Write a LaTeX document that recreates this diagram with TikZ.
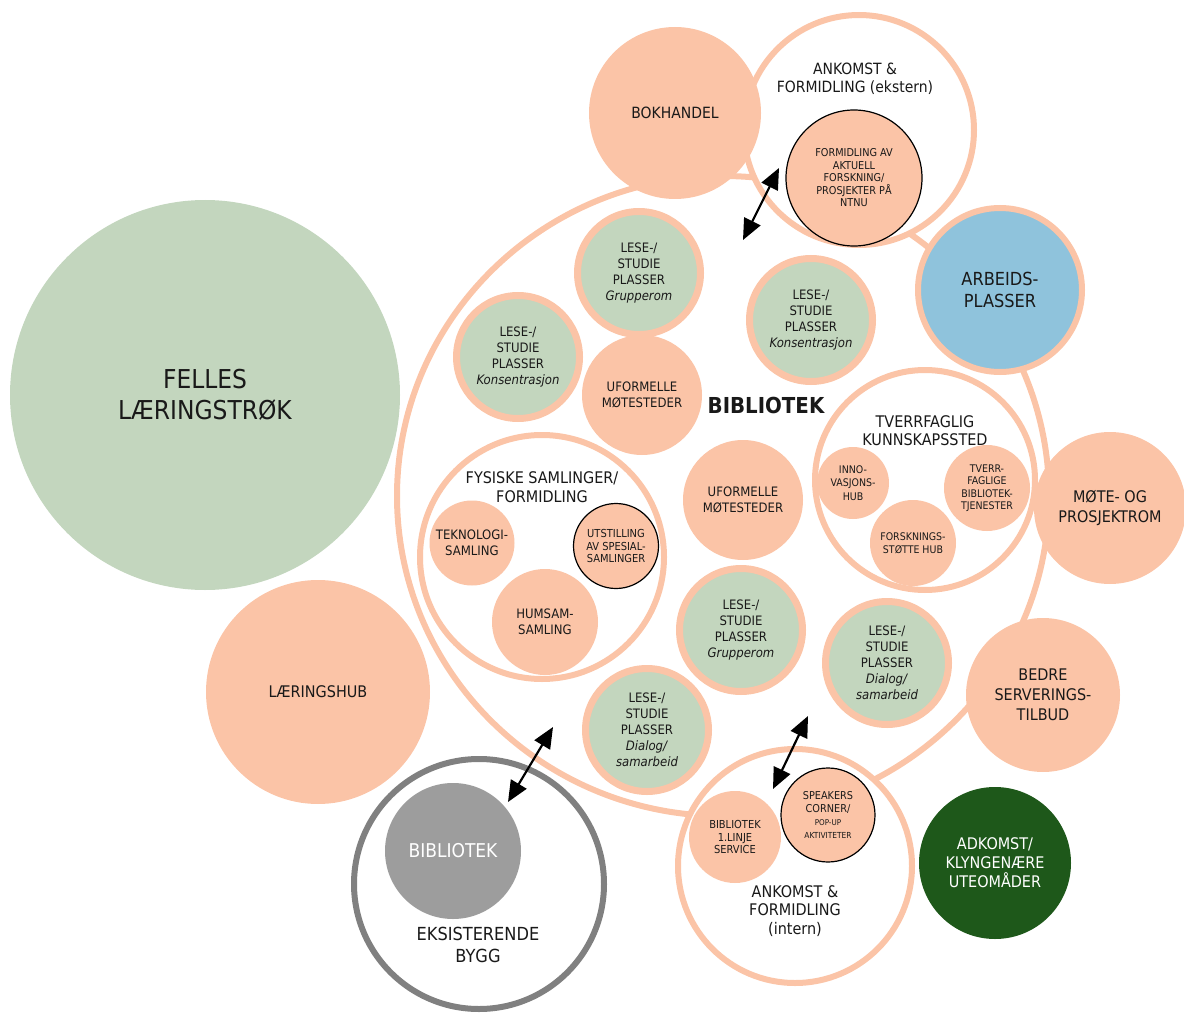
\documentclass[tikz,border=0pt]{standalone}
\usepackage{fontspec}
\setmainfont{DejaVu Sans Condensed}
\usetikzlibrary{arrows.meta,shapes.geometric}
\definecolor{peach}{RGB}{251,196,167}
\definecolor{sage}{RGB}{195,214,190}
\definecolor{sky}{RGB}{143,195,220}
\definecolor{forest}{RGB}{30,88,26}
\definecolor{stone}{RGB}{157,157,157}
\definecolor{slate}{RGB}{128,128,128}
\definecolor{ink}{RGB}{25,25,25}
\newcommand{\fs}[2]{\fontsize{#1}{#2}\selectfont}
\begin{document}
\begin{tikzpicture}
        [x=1pt,y=-1pt,every node/.style={circle,inner sep=0pt,outer sep=0pt,align=center,text=ink,font=\fs{15.5}{18.5}},
         pdisc/.style={fill=peach,minimum size=#1},
         wring/.style={fill=white,draw=peach,line width=6pt,minimum size=#1},
         lese/.style={fill=sage,draw=peach,line width=7pt,minimum size=123pt,font=\fs{13}{16}},
         bdisc/.style={fill=peach,draw=black,line width=1.2pt,minimum size=#1},
         dblarrow/.style={{Triangle[length=21pt,width=18pt]}-{Triangle[length=21pt,width=18pt]},line width=2.2pt}]
        \useasboundingbox (0,0) rectangle (1184,1014);

        % BIBLIOTEK ring
        \node[ellipse,draw=peach,line width=6pt,minimum width=652pt,minimum height=640pt] (BIB) at (723,496) {};

        % outside
        \node[fill=sage,minimum size=390pt,font=\fs{26}{31}] (FL) at (205,395)  {FELLES\\LÆRINGSTRØK};
        \node[pdisc=224pt,font=\fs{16}{19}]                (LH) at (318,692)  {LÆRINGSHUB};
        \node[wring=230pt]                                 (AKE) at (859,130) {};
        \node[pdisc=172pt]                                 (BOK) at (675,113) {BOKHANDEL};
        \node[fill=sky,draw=peach,line width=6pt,minimum size=164pt,font=\fs{18}{22}]
                                                           (ARB) at (1000,290) {ARBEIDS-\\PLASSER};
        \node[pdisc=152pt,font=\fs{16}{19.5}]              (MP) at (1110,508)  {MØTE- OG\\PROSJEKTROM};
        \node[pdisc=154pt,font=\fs{16}{20}]                (BS) at (1043,695)  {BEDRE\\SERVERINGS-\\TILBUD};
        \node[fill=forest,minimum size=152pt,text=white,font=\fs{16}{19}]
                                                           (AD) at (995,863)   {ADKOMST/\\KLYNGENÆRE\\UTEOMÅDER};
        \node[wring=234pt]                                 (AKI) at (795,866) {};
        \node[fill=white,draw=slate,line width=6pt,minimum size=250pt] (EB) at (479,884) {};

        % ANKOMST ekstern
        \node (AKEt) at (855,79) {ANKOMST \&\\FORMIDLING (ekstern)};
        \node[bdisc=136pt,font=\fs{10.8}{12.5}] (FAF) at (854,178) {FORMIDLING AV\\AKTUELL\\FORSKNING/\\PROSJEKTER PÅ\\NTNU};

        % ANKOMST intern
        \node[pdisc=92pt,font=\fs{11}{12.5}]  (B1L) at (735,837) {BIBLIOTEK\\1.LINJE\\SERVICE};
        \node[bdisc=94pt,font=\fs{10.8}{13}]  (SC)  at (828,815) {SPEAKERS\\CORNER/\\{\fs{8}{9.5}POP-UP}\\{\fs{8.3}{9.5}AKTIVITETER}};
        \node[font=\fs{16}{18.5}]             (AKIt) at (795,911) {ANKOMST \&\\FORMIDLING\\(intern)};

        % EKSISTERENDE BYGG
        \node[fill=stone,minimum size=136pt,text=white,font=\fs{19}{22}] (EBB) at (453,851) {BIBLIOTEK};
        \node[font=\fs{18}{22}]              (EBt) at (478,945) {EKSISTERENDE\\BYGG};

        % inside BIBLIOTEK
        \node[font=\bfseries\fs{22}{26}] (BIBt) at (766,405) {BIBLIOTEK};
        \node[lese] (LG1) at (639,273) {LESE-/\\STUDIE\\PLASSER\\\textit{Grupperom}};
        \node[lese] (LK1) at (518,357) {LESE-/\\STUDIE\\PLASSER\\\textit{Konsentrasjon}};
        \node[lese] (LK2) at (811,320) {LESE-/\\STUDIE\\PLASSER\\\textit{Konsentrasjon}};
        \node[lese] (LG2) at (741,630) {LESE-/\\STUDIE\\PLASSER\\\textit{Grupperom}};
        \node[lese] (LD1) at (887,663) {LESE-/\\STUDIE\\PLASSER\\\textit{Dialog/}\\\textit{samarbeid}};
        \node[lese] (LD2) at (647,730) {LESE-/\\STUDIE\\PLASSER\\\textit{Dialog/}\\\textit{samarbeid}};
        \node[pdisc=120pt,font=\fs{13}{15.7}] (UM1) at (642,395) {UFORMELLE\\MØTESTEDER};
        \node[pdisc=120pt,font=\fs{13}{15.7}] (UM2) at (743,500) {UFORMELLE\\MØTESTEDER};

        % TVERRFAGLIG
        \node[wring=220pt] (TK) at (925,480) {};
        \node[font=\fs{16}{18.3}] (TKt) at (925,431) {TVERRFAGLIG\\KUNNSKAPSSTED};
        \node[pdisc=72pt,font=\fs{10.5}{13.3}] (INN) at (853,483) {INNO-\\VASJONS-\\HUB};
        \node[pdisc=86pt,font=\fs{10.5}{12.5}] (TBT) at (987,488) {TVERR-\\FAGLIGE\\BIBLIOTEK-\\TJENESTER};
        \node[pdisc=86pt,font=\fs{10.5}{13.3}] (FSH) at (913,543) {FORSKNINGS-\\STØTTE HUB};

        % FYSISKE SAMLINGER
        \node[wring=244pt] (FS) at (542,557) {};
        \node[font=\fs{16}{19}] (FSt) at (542,487) {FYSISKE SAMLINGER/\\FORMIDLING};
        \node[pdisc=85pt,font=\fs{13}{15.7}] (TS) at (472,543) {TEKNOLOGI-\\SAMLING};
        \node[bdisc=85pt,font=\fs{11}{12.5}] (US) at (616,546) {UTSTILLING\\AV SPESIAL-\\SAMLINGER};
        \node[pdisc=106pt,font=\fs{13}{16}] (HS) at (545,622) {HUMSAM-\\SAMLING};

        % arrows
        \coordinate (A1) at (743,240); \coordinate (B1) at (779,168);
        \coordinate (A2) at (508,802); \coordinate (B2) at (553,727);
        \coordinate (A3) at (773,789); \coordinate (B3) at (808,716);
        \draw[dblarrow] (A1) -- (B1);
        \draw[dblarrow] (A2) -- (B2);
        \draw[dblarrow] (A3) -- (B3);
\end{tikzpicture}
\end{document}
